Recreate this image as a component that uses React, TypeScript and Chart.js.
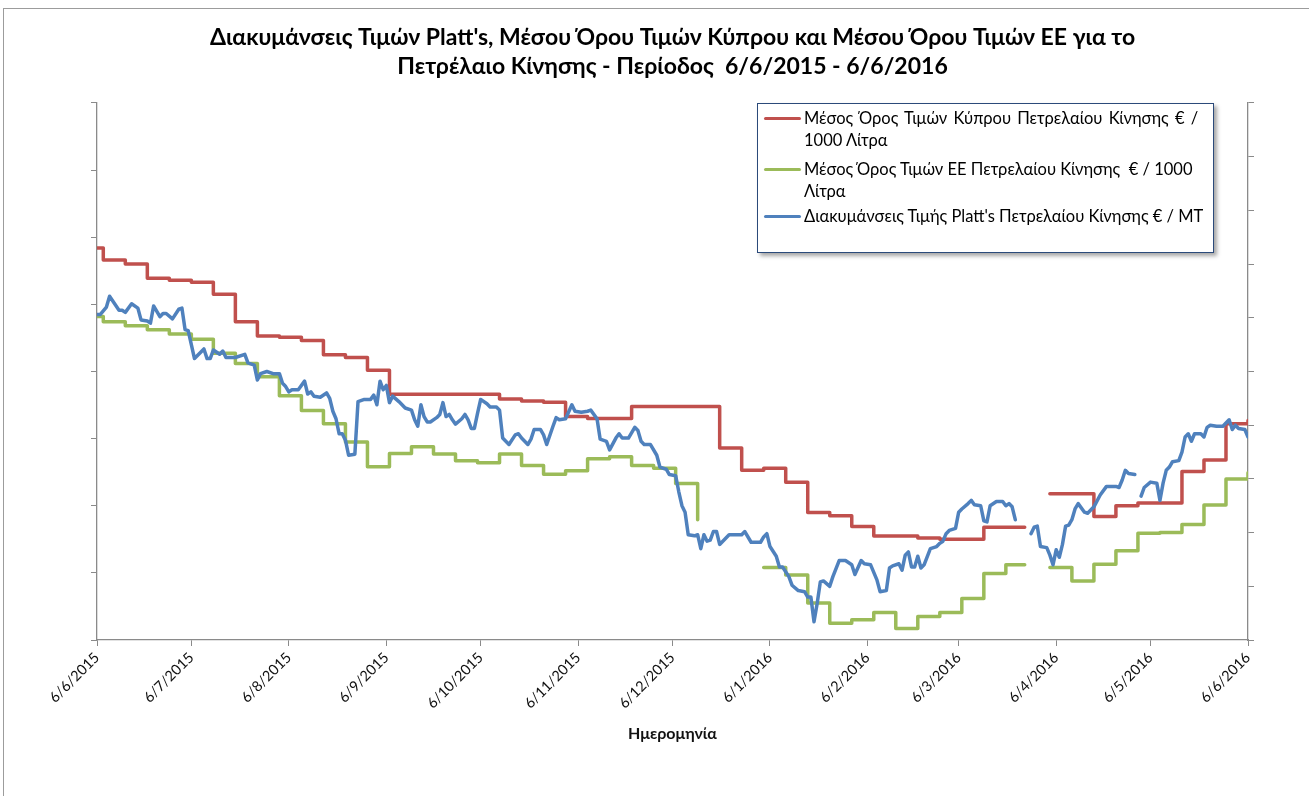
import React, { useEffect, useRef } from "react";
import { Chart, registerables } from "chart.js";

Chart.register(...registerables);

const titleLines = [
  "Διακυμάνσεις Τιμών Platt's, Μέσου Όρου Τιμών Κύπρου και Μέσου Όρου Τιμών ΕΕ για το",
  "Πετρέλαιο Κίνησης - Περίοδος  6/6/2015 - 6/6/2016",
];
const xAxisTitle = "Ημερομηνία";

const tickLabels = [
  "6/6/2015", "6/7/2015", "6/8/2015", "6/9/2015", "6/10/2015", "6/11/2015", "6/12/2015",
  "6/1/2016", "6/2/2016", "6/3/2016", "6/4/2016", "6/5/2016", "6/6/2016",
];

const legendCyprus = ["Μέσος Όρος Τιμών Κύπρου Πετρελαίου Κίνησης € /", "1000 Λίτρα"];
const legendEU = ["Μέσος Όρος Τιμών ΕΕ Πετρελαίου Κίνησης  € / 1000", "Λίτρα"];
const legendPlatts = ["Διακυμάνσεις Τιμής Platt's Πετρελαίου Κίνησης € / MT"];

// days counted from 6/6/2015
const cyprusDays = [
  0, 2, 9, 16, 23, 30, 37, 44, 51, 58, 65, 72, 79, 86, 93, 100, 107, 114, 121, 128, 135, 142,
  149, 156, 163, 170, 177, 184, 191, 198, 205, 212, 219, 226, 233, 240, 247, 254, 261, 268, 275,
  282, 289, 295, 296, 303, 310, 317, 324, 331, 338, 345, 352, 359, 366,
];
const cyprusPrice = [
  1184, 1166, 1160, 1139, 1136, 1133, 1115, 1074, 1053, 1051, 1046, 1025, 1021, 1002, 966, 966,
  966, 966, 966, 959, 956, 954, 933, 930, 930, 948, 948, 948, 948, 886, 853, 856, 835, 790, 785,
  769, 755, 755, 752, 750, 750, 768, 768, 768, null, 818, 818, 784, 800, 804, 804, 851, 868, 922,
  927,
];

const euDays = [
  0, 2, 9, 16, 23, 30, 37, 44, 51, 58, 65, 72, 79, 86, 93, 100, 107, 114, 121, 128, 135, 142,
  149, 156, 163, 170, 177, 184, 191, 192, 212, 219, 226, 233, 240, 247, 254, 261, 268, 275, 282,
  289, 295, 296, 303, 310, 317, 324, 331, 338, 345, 352, 359, 366,
];
const euPrice = [
  1082, 1074, 1068, 1062, 1056, 1048, 1027, 1012, 992, 964, 942, 922, 895, 858, 878, 888, 877,
  867, 864, 877, 860, 847, 852, 870, 873, 860, 856, 833, 779, null, 708, 697, 655, 625, 630, 641,
  617, 635, 641, 662, 699, 712, 712, null, 708, 688, 713, 733, 759, 760, 772, 801, 840, 849,
];

const plattsDays = [
  0, 1, 3, 4, 7, 8, 9, 11, 13, 14, 16, 17, 18, 20, 21, 22, 24, 26, 27, 28, 29, 31, 34, 35, 36,
  37, 39, 40, 41, 44, 47, 48, 50, 51, 52, 54, 56, 58, 59, 60, 61, 62, 64, 66, 67, 68, 69, 71, 73,
  74, 75, 76, 77, 78, 79, 80, 82, 83, 85, 87, 88, 89, 90, 91, 92, 93, 94, 96, 98, 100, 101, 102,
  103, 104, 105, 106, 108, 109, 110, 111, 112, 113, 114, 116, 117, 118, 119, 120, 121, 122, 124,
  125, 127, 128, 129, 131, 133, 134, 135, 137, 138, 139, 141, 142, 143, 145, 146, 147, 149, 151,
  152, 154, 156, 157, 159, 160, 162, 163, 165, 166, 167, 169, 171, 172, 173, 174, 176, 178, 179,
  181, 182, 184, 185, 186, 187, 188, 190, 191, 192, 193, 194, 195, 196, 197, 198, 200, 201, 205,
  206, 208, 211, 212, 213, 214, 216, 217, 218, 220, 221, 223, 225, 226, 227, 228, 229, 230, 231,
  233, 234, 236, 238, 240, 241, 243, 244, 246, 248, 249, 251, 252, 253, 255, 256, 257, 258, 259,
  260, 261, 262, 263, 265, 267, 268, 269, 270, 271, 273, 274, 275, 277, 278, 279, 281, 282, 283,
  284, 286, 288, 289, 290, 291, 292, 293, 297, 298, 299, 300, 302, 303, 304, 305, 306, 307, 308,
  309, 310, 311, 312, 314, 315, 317, 319, 321, 324, 325, 326, 327, 328, 330, 331, 332, 333, 335,
  337, 338, 339, 340, 341, 342, 344, 345, 346, 347, 348, 349, 351, 352, 353, 354, 356, 358, 359,
  360, 361, 362, 363, 365, 366,
];
const plattsPrice = [
  503, 503, 510, 520, 507, 507, 505, 513, 509, 498, 497, 495, 511, 501, 504, 504, 499, 508, 509,
  489, 488, 462, 471, 462, 462, 470, 466, 469, 463, 463, 466, 458, 456, 442, 448, 450, 448, 448,
  439, 436, 431, 433, 433, 441, 429, 431, 427, 426, 430, 425, 413, 406, 392, 392, 386, 372, 373,
  422, 424, 424, 428, 419, 441, 433, 437, 421, 427, 422, 416, 414, 405, 399, 419, 408, 403, 403,
  407, 410, 421, 408, 410, 405, 401, 406, 410, 405, 397, 397, 411, 424, 420, 417, 417, 414, 388,
  382, 391, 392, 388, 382, 387, 396, 396, 391, 382, 399, 407, 405, 406, 419, 413, 412, 413, 414,
  406, 387, 385, 377, 388, 392, 388, 388, 398, 395, 385, 382, 382, 372, 361, 359, 354, 353, 338,
  325, 319, 298, 297, 298, 285, 298, 292, 293, 301, 301, 289, 295, 298, 298, 301, 291, 291, 296,
  299, 287, 278, 268, 268, 259, 251, 246, 245, 240, 240, 217, 234, 254, 255, 250, 259, 274, 274,
  270, 261, 274, 271, 270, 256, 245, 246, 267, 269, 271, 265, 279, 282, 268, 268, 278, 267, 270,
  285, 287, 290, 292, 299, 302, 304, 319, 322, 327, 330, 326, 325, 311, 310, 325, 329, 329, 325,
  327, 324, 312, null, 299, 305, 306, 287, 286, 279, 270, 284, 277, 289, 306, 307, 312, 322, 327,
  319, 318, 324, 335, 343, 343, 342, 349, 358, 355, 354, null, 334, 342, 347, 346, 330, 346, 358,
  361, 366, 367, 375, 389, 392, 385, 392, 392, 389, 398, 400, 399, 399, 402, 405, 396, 400, 397,
  396, 389,
];

const RED = "#C0504D";
const GREEN = "#9BBB59";
const BLUE = "#4F81BD";
const AXIS = "#8a8a8a";
const FONT = '"Lato", "Noto Sans", sans-serif';

const dayOf = (label: string) => {
  const [d, m, y] = label.split("/").map(Number);
  const [d0, m0, y0] = tickLabels[0].split("/").map(Number);
  return Math.round((Date.UTC(y, m - 1, d) - Date.UTC(y0, m0 - 1, d0)) / 86400000);
};
const tickDays = tickLabels.map(dayOf);

const toPoints = (days: number[], vals: (number | null)[]) =>
  days.map((d, i) => ({ x: d, y: vals[i] }));

export default function App() {
  const ref = useRef<HTMLCanvasElement | null>(null);

  useEffect(() => {
    if (!ref.current) return;
    const axisGrid = { drawOnChartArea: false, drawTicks: true, tickLength: 6, color: AXIS, lineWidth: 1 };
    const axisBorder = { display: true, color: AXIS, width: 1.3 };
    const chart = new Chart(ref.current, {
      type: "line",
      data: {
        datasets: [
          {
            label: legendPlatts.join(" "),
            data: toPoints(plattsDays, plattsPrice),
            borderColor: BLUE,
            backgroundColor: BLUE,
            yAxisID: "y1",
            order: 0,
          },
          {
            label: legendCyprus.join(" "),
            data: toPoints(cyprusDays, cyprusPrice),
            borderColor: RED,
            backgroundColor: RED,
            yAxisID: "y",
            stepped: true,
            order: 1,
          },
          {
            label: legendEU.join(" "),
            data: toPoints(euDays, euPrice),
            borderColor: GREEN,
            backgroundColor: GREEN,
            yAxisID: "y",
            stepped: true,
            order: 2,
          },
        ],
      },
      options: {
        responsive: false,
        animation: false,
        layout: { padding: { left: 91, right: 55, top: 0, bottom: 0 } },
        elements: {
          point: { radius: 0 },
          line: { borderWidth: 3.5, tension: 0, borderJoinStyle: "round", borderCapStyle: "round", fill: false },
        },
        plugins: {
          legend: { display: false },
          tooltip: { enabled: false },
          title: {
            display: true,
            text: titleLines,
            color: "#000",
            font: { family: FONT, size: 23, weight: "bold", lineHeight: 1.26 },
            padding: { top: 23.5, bottom: 21.5 },
          },
        },
        scales: {
          x: {
            type: "linear",
            min: 0,
            max: 366,
            afterBuildTicks: (s: any) => {
              s.ticks = tickDays.map((v) => ({ value: v }));
            },
            afterFit: (s: any) => {
              s.height = 156;
            },
            ticks: {
              autoSkip: false,
              minRotation: 45,
              maxRotation: 45,
              padding: 3,
              color: "#111",
              font: { family: FONT, size: 14.5 },
              callback: (_v: any, i: number) => tickLabels[i],
            },
            grid: axisGrid,
            border: axisBorder,
            title: {
              display: true,
              text: xAxisTitle,
              color: "#111",
              font: { family: FONT, size: 16, weight: "bold", lineHeight: 1.2 },
              padding: { top: 0, bottom: 53 },
            },
          },
          y: {
            position: "left",
            min: 600,
            max: 1400,
            ticks: { stepSize: 100, display: false },
            grid: axisGrid,
            border: axisBorder,
          },
          y1: {
            position: "right",
            min: 200,
            max: 700,
            ticks: { stepSize: 50, display: false },
            grid: axisGrid,
            border: axisBorder,
          },
        },
      },
    } as any);
    return () => chart.destroy();
  }, []);

  const row = (top: number, color: string, lines: string[], spacing: number[]) => (
    <div style={{ position: "absolute", left: 0, top, width: "100%" }}>
      <div
        style={{
          position: "absolute",
          left: 6,
          top: 9.5,
          width: 37,
          height: 3.5,
          background: color,
          borderRadius: 1.5,
        }}
      />
      <div style={{ position: "absolute", left: 46, top: 0, lineHeight: "22px", whiteSpace: "pre" }}>
        {lines.map((l, i) => (
          <div key={i} style={{ wordSpacing: spacing[i] || 0 }}>
            {l}
          </div>
        ))}
      </div>
    </div>
  );

  return (
    <div
      style={{
        position: "absolute",
        left: 0,
        top: 0,
        width: 1309,
        height: 796,
        overflow: "hidden",
        background: "#fff",
      }}
    >
      <div
        style={{
          position: "absolute",
          left: 3,
          top: 8,
          width: 1306,
          height: 788,
          borderTop: "1px solid #9c9c9c",
          borderLeft: "1px solid #9c9c9c",
          boxSizing: "border-box",
        }}
      />
      <canvas ref={ref} width={1309} height={796} style={{ position: "absolute", left: 0, top: 0 }} />
      <div
        style={{
          position: "absolute",
          left: 757,
          top: 103,
          width: 457,
          height: 150,
          boxSizing: "border-box",
          border: "1.5px solid #2b4a7a",
          background: "#fff",
          boxShadow: "3px 3px 4px rgba(0,0,0,0.35)",
          fontFamily: FONT,
          fontSize: 16.5,
          color: "#000",
        }}
      >
        {row(3, RED, legendCyprus, [2])}
        {row(54, GREEN, legendEU, [0])}
        {row(101, BLUE, legendPlatts, [0])}
      </div>
    </div>
  );
}
